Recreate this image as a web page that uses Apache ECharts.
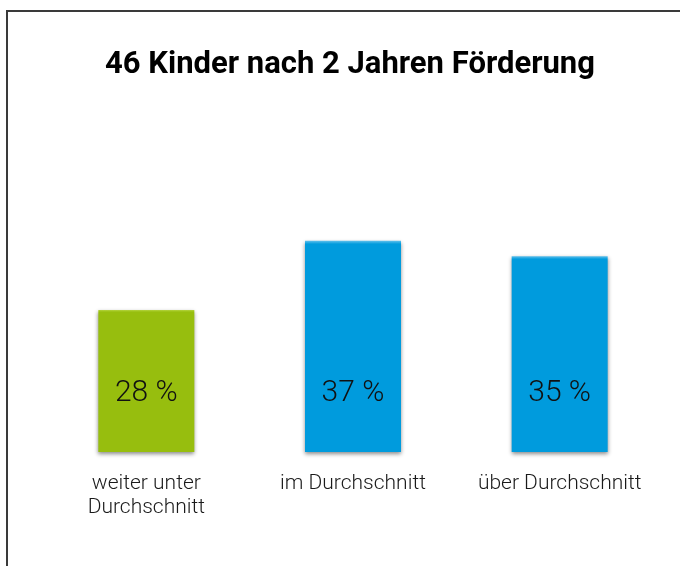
<!DOCTYPE html>
<html>
<head>
<meta charset="utf-8">
<script src="https://cdn.jsdelivr.net/npm/echarts@6/dist/echarts.min.js"></script>
<style>
    html, body { margin: 0; padding: 0; background: #fff; }
    #chart { width: 680px; height: 566px; }
</style>
</head>
<body>
<div id="chart"></div>
<script>
// data
const categories = ['weiter unter\nDurchschnitt', 'im Durchschnitt', 'über Durchschnitt'];
const values = [28, 37, 35];
const barColors = [
    ['#b4d441', '#97be0e'],   // top highlight, body
    ['#5fc0ec', '#009bdd'],
    ['#5fc0ec', '#009bdd']
];

let chart = echarts.init(document.getElementById('chart'));

const option = {
    backgroundColor: '#ffffff',
    animation: false,
    title: {
        text: '46 Kinder nach 2 Jahren Förderung',
        left: 345,
        textAlign: 'center',
        top: 45,
        textStyle: {
            fontFamily: 'Roboto, "Liberation Sans", Arial, sans-serif',
            fontWeight: 'bold',
            fontSize: 31,
            color: '#000'
        }
    },
    graphic: [
        {
            // frame line on the left and top
            type: 'polyline',
            shape: { points: [[7, 566], [7, 11], [680, 11]] },
            style: { stroke: '#3a3a3a', lineWidth: 2, fill: null }
        }
    ],
    grid: {
        left: 43,
        right: 17,
        top: 141,
        bottom: 114
    },
    xAxis: {
        type: 'category',
        data: categories,
        axisLine: { show: false },
        axisTick: { show: false },
        axisLabel: {
            interval: 0,
            hideOverlap: false,
            margin: 20,
            fontSize: 21,
            lineHeight: 24,
            color: '#1a1a1a',
            fontFamily: 'Roboto, "Liberation Sans", sans-serif',
            fontWeight: 300
        }
    },
    yAxis: {
        type: 'value',
        min: 9.5,
        max: 50,
        show: false,
        splitLine: { show: false }
    },
    series: [
        {
            type: 'bar',
            barWidth: 96,
            data: values.map(function (v, i) {
                return {
                    value: v,
                    itemStyle: {
                        color: new echarts.graphic.LinearGradient(0, 0, 0, 1, [
                            { offset: 0, color: barColors[i][0] },
                            { offset: 0.015, color: barColors[i][1] },
                            { offset: 1, color: barColors[i][1] }
                        ])
                    }
                };
            }),
            itemStyle: {
                shadowColor: 'rgba(0,0,0,0.45)',
                shadowBlur: 4,
                shadowOffsetY: 2
            },
            label: {
                show: true,
                position: 'insideBottom',
                distance: 44,
                formatter: '{c} %',
                fontSize: 30,
                color: '#111',
                fontFamily: 'Roboto, "Liberation Sans", sans-serif',
                fontWeight: 300
            }
        }
    ]
};

chart.setOption(option);
</script>
</body>
</html>
